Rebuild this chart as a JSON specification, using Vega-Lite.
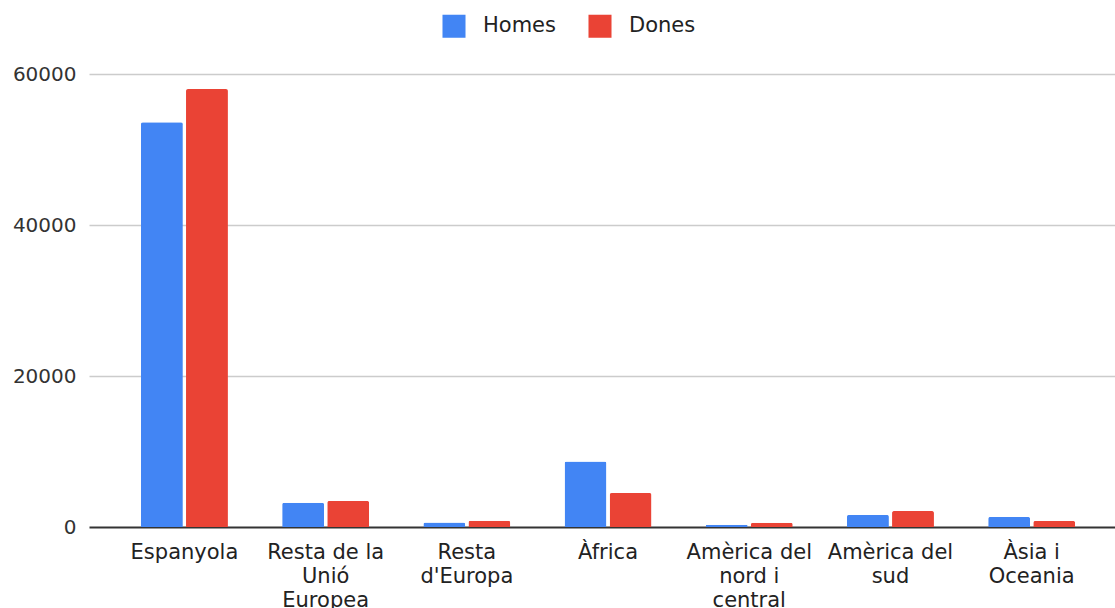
{
  "$schema": "https://vega.github.io/schema/vega-lite/v6.json",
  "width": 1026,
  "height": 453,
  "autosize": "none",
  "padding": {"left": 89, "top": 74, "right": 0, "bottom": 81},
  "background": "white",
  "data": {
    "values": [
      {"origen": "Espanyola", "sexe": "Homes", "valor": 53600},
      {"origen": "Espanyola", "sexe": "Dones", "valor": 58000},
      {"origen": "Resta de la Unió Europea", "sexe": "Homes", "valor": 3200},
      {"origen": "Resta de la Unió Europea", "sexe": "Dones", "valor": 3450},
      {"origen": "Resta d'Europa", "sexe": "Homes", "valor": 580},
      {"origen": "Resta d'Europa", "sexe": "Dones", "valor": 830},
      {"origen": "Àfrica", "sexe": "Homes", "valor": 8690},
      {"origen": "Àfrica", "sexe": "Dones", "valor": 4500},
      {"origen": "Amèrica del nord i central", "sexe": "Homes", "valor": 300},
      {"origen": "Amèrica del nord i central", "sexe": "Dones", "valor": 570},
      {"origen": "Amèrica del sud", "sexe": "Homes", "valor": 1600},
      {"origen": "Amèrica del sud", "sexe": "Dones", "valor": 2120},
      {"origen": "Àsia i Oceania", "sexe": "Homes", "valor": 1330},
      {"origen": "Àsia i Oceania", "sexe": "Dones", "valor": 800}
    ]
  },
  "mark": {"type": "bar", "cornerRadiusTopLeft": 2, "cornerRadiusTopRight": 2},
  "encoding": {
    "x": {
      "field": "origen",
      "type": "nominal",
      "sort": null,
      "scale": {"paddingInner": 0.384, "paddingOuter": 0.325, "align": 0.566},
      "axis": {
        "title": null,
        "labelAngle": 0,
        "ticks": false,
        "domain": false,
        "grid": false,
        "labelFont": "DejaVu Sans",
        "labelFontSize": 21,
        "labelColor": "#222222",
        "labelPadding": 14,
        "labelLineHeight": 24,
        "labelBaseline": "top",
        "labelLimit": 0,
        "labelExpr": "datum.label == 'Resta de la Unió Europea' ? ['Resta de la', 'Unió', 'Europea'] : datum.label == \"Resta d'Europa\" ? ['Resta', \"d'Europa\"] : datum.label == 'Amèrica del nord i central' ? ['Amèrica del', 'nord i', 'central'] : datum.label == 'Amèrica del sud' ? ['Amèrica del', 'sud'] : datum.label == 'Àsia i Oceania' ? ['Àsia i', 'Oceania'] : datum.label"
      }
    },
    "xOffset": {
      "field": "sexe",
      "type": "nominal",
      "sort": ["Homes", "Dones"],
      "scale": {"paddingInner": 0.07, "paddingOuter": 0}
    },
    "y": {
      "field": "valor",
      "type": "quantitative",
      "scale": {"domain": [0, 60000], "nice": false},
      "axis": {
        "title": null,
        "values": [0, 20000, 40000, 60000],
        "format": "d",
        "ticks": false,
        "domain": false,
        "labelFont": "DejaVu Sans",
        "labelFontSize": 20,
        "labelColor": "#333333",
        "labelPadding": 13,
        "gridColor": {"condition": {"test": "datum.value === 0", "value": "#333333"}, "value": "#cccccc"},
        "gridWidth": {"condition": {"test": "datum.value === 0", "value": 2}, "value": 1.5}
      }
    },
    "color": {
      "field": "sexe",
      "type": "nominal",
      "sort": ["Homes", "Dones"],
      "scale": {"domain": ["Homes", "Dones"], "range": ["#4285F4", "#EA4335"]},
      "legend": {
        "title": null,
        "orient": "none",
        "legendX": 353,
        "legendY": -60,
        "direction": "horizontal",
        "symbolType": "square",
        "symbolSize": 530,
        "symbolStrokeWidth": 0,
        "labelFont": "DejaVu Sans",
        "labelFontSize": 21,
        "labelColor": "#222222",
        "labelOffset": 17,
        "columnPadding": 32,
        "padding": 0
      }
    }
  },
  "config": {"view": {"stroke": null}}
}
